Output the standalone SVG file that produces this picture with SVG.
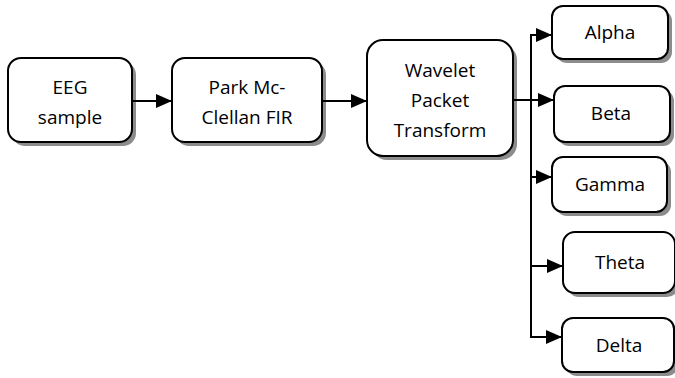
<svg xmlns="http://www.w3.org/2000/svg" width="675" height="378" viewBox="0 0 675 378">
<style>
.box{fill:#fff;stroke:#000;stroke-width:2}
.sh{fill:#8c8c8c}
.t{font-family:"Open Sans","Liberation Sans",sans-serif;font-size:19px;fill:#000;text-anchor:middle}
.c{fill:none;stroke:#000;stroke-width:2}
</style>
<defs>
<marker id="ah" markerWidth="8" markerHeight="7" refX="7.5" refY="3.5" orient="auto" markerUnits="strokeWidth">
<path d="M0,0 L8,3.5 L0,7 Z" fill="#000"/>
</marker>
</defs>
<rect width="675" height="378" fill="#fff"/>
<g id="eeg">
<rect class="sh" x="12" y="62" width="124" height="84" rx="13"/>
<rect class="box" x="8" y="58" width="124" height="84" rx="13"/>
<text class="t" x="70" y="94">EEG</text>
<text class="t" x="70" y="124">sample</text>
</g>
<g id="park">
<rect class="sh" x="176" y="62" width="150" height="84" rx="13"/>
<rect class="box" x="172" y="58" width="150" height="84" rx="13"/>
<text class="t" x="247" y="94">Park Mc-</text>
<text class="t" x="247" y="124">Clellan FIR</text>
</g>
<g id="wavelet">
<rect class="sh" x="371" y="44" width="146" height="116" rx="16"/>
<rect class="box" x="367" y="40" width="146" height="116" rx="16"/>
<text class="t" x="440" y="77">Wavelet</text>
<text class="t" x="440" y="107">Packet</text>
<text class="t" x="440" y="137">Transform</text>
</g>
<g id="alpha">
<rect class="sh" x="556" y="10" width="116" height="53" rx="11"/>
<rect class="box" x="552" y="6" width="116" height="53" rx="11"/>
<text class="t" x="610" y="39">Alpha</text>
</g>
<g id="beta">
<rect class="sh" x="558" y="90" width="116" height="56" rx="11"/>
<rect class="box" x="554" y="86" width="116" height="56" rx="11"/>
<text class="t" x="611" y="120">Beta</text>
</g>
<g id="gamma">
<rect class="sh" x="556" y="161" width="115" height="55" rx="11"/>
<rect class="box" x="552" y="157" width="115" height="55" rx="11"/>
<text class="t" x="610" y="191">Gamma</text>
</g>
<g id="theta">
<rect class="sh" x="567" y="236" width="112" height="61" rx="12"/>
<rect class="box" x="563" y="232" width="112" height="61" rx="12"/>
<text class="t" x="620" y="269">Theta</text>
</g>
<g id="delta">
<rect class="sh" x="566" y="322" width="112" height="54" rx="11"/>
<rect class="box" x="562" y="318" width="112" height="54" rx="11"/>
<text class="t" x="619" y="352">Delta</text>
</g>
<g id="connectors">
<line class="c" x1="132" y1="101" x2="171" y2="101" marker-end="url(#ah)"/>
<line class="c" x1="322" y1="101" x2="366" y2="101" marker-end="url(#ah)"/>
<line class="c" x1="513" y1="100" x2="553" y2="100" marker-end="url(#ah)"/>
<line class="c" x1="531" y1="34" x2="531" y2="338"/>
<line class="c" x1="530" y1="35" x2="551" y2="35" marker-end="url(#ah)"/>
<line class="c" x1="530" y1="177" x2="551" y2="177" marker-end="url(#ah)"/>
<line class="c" x1="530" y1="266" x2="562" y2="266" marker-end="url(#ah)"/>
<line class="c" x1="530" y1="337" x2="561" y2="337" marker-end="url(#ah)"/>
</g>
</svg>
